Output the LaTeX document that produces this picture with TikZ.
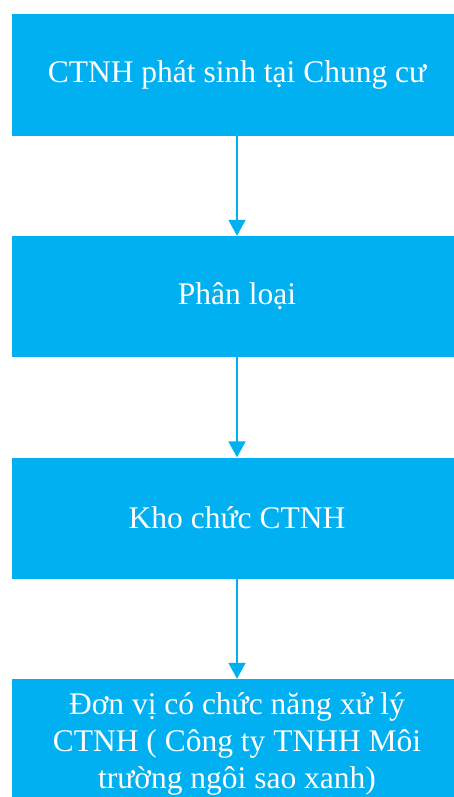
\documentclass[tikz,border=0pt]{standalone}
\usepackage{fontspec}
\setmainfont{Liberation Serif}
\usetikzlibrary{arrows.meta}
\definecolor{boxblue}{HTML}{00B0F0}
\tikzset{
  stepbox/.style={rectangle, fill=boxblue, draw=none, minimum width=450pt,
    minimum height=121pt, inner sep=0pt, text=white, align=center,
    font=\fontsize{31.5}{37}\selectfont},
  flow/.style={draw=boxblue, line width=2pt,
    -{Triangle[length=16pt,width=17pt]}}
}
\begin{document}
\begin{tikzpicture}[x=1pt,y=1pt]
  \useasboundingbox (0,0) rectangle (454,-797);
  \begin{scope}
    \clip (0,0) rectangle (454,-797);
    \node[stepbox] (s1) at (237,-75)  {CTNH phát sinh tại Chung cư};
    \node[stepbox] (s2) at (237,-296.5) {Phân loại};
    \node[stepbox] (s3) at (237,-518) {Kho chức CTNH};
    \node[stepbox, minimum height=130pt] (s4) at (237,-744) {Đơn vị có chức năng xử lý\\CTNH ( Công ty TNHH Môi\\trường ngôi sao xanh)};
  \end{scope}
  \draw[flow] (s1.south) -- (s2.north);
  \draw[flow] (s2.south) -- (s3.north);
  \draw[flow] (s3.south) -- (s4.north);
\end{tikzpicture}
\end{document}
